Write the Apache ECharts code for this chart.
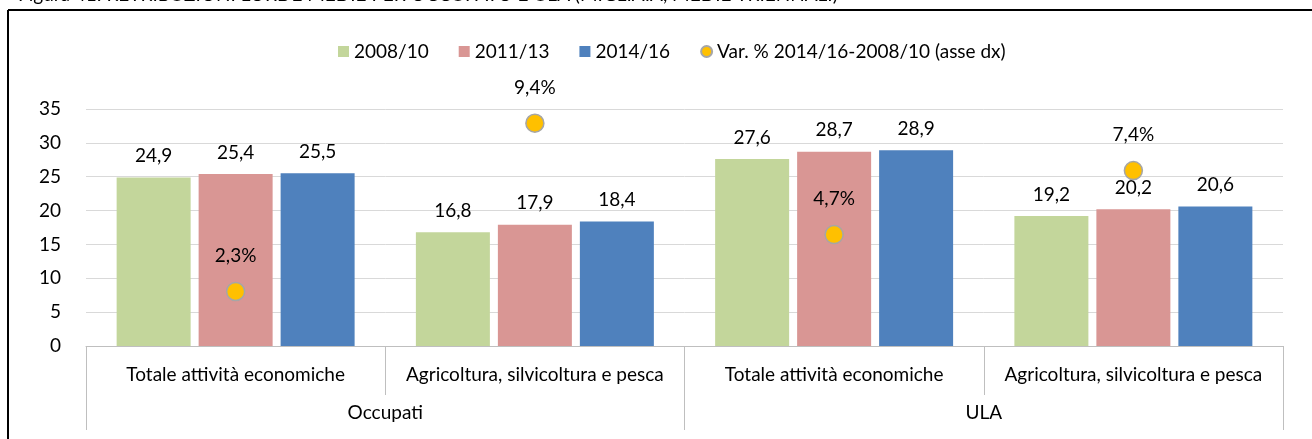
<!DOCTYPE html>
<html>
<head>
<meta charset="utf-8">
<script src="https://cdn.jsdelivr.net/npm/echarts@6/dist/echarts.min.js"></script>
<style>
  html, body { margin: 0; padding: 0; background: #fff; }
  #chart { width: 1312px; height: 439px; }
</style>
</head>
<body>
<div id="chart"></div>
<script>
// Retribuzioni lorde medie (migliaia di euro, medie triennali)
const categories = ['Totale attività economiche', 'Agricoltura, silvicoltura e pesca',
                    'Totale attività economiche', 'Agricoltura, silvicoltura e pesca'];
const groups = ['Occupati', 'ULA'];
const periods = ['2008/10', '2011/13', '2014/16'];
const values2008 = [24.9, 16.8, 27.6, 19.2];
const values2011 = [25.4, 17.9, 28.7, 20.2];
const values2014 = [25.5, 18.4, 28.9, 20.6];
const variation = [2.3, 9.4, 4.7, 7.4];
const varName = 'Var. % 2014/16-2008/10 (asse dx)';
const leftTicks = [0, 5, 10, 15, 20, 25, 30, 35];

const FONT = 'Lato';
const FS = 19;
const TXT = '#000000';
const comma = v => v.toFixed(1).replace('.', ',');

const barColors = ['#C3D69B', '#D99694', '#4F81BD'];
const barData = [values2008, values2011, values2014];

const barSeries = periods.map((p, i) => ({
  name: p,
  type: 'bar',
  xAxisIndex: 0,
  yAxisIndex: 0,
  data: barData[i],
  barWidth: 74,
  barGap: '10.8%',
  itemStyle: { color: barColors[i] },
  label: {
    show: true, position: 'top', distance: 12,
    fontFamily: FONT, fontSize: FS, color: TXT,
    formatter: d => comma(d.value)
  }
}));

const chart = echarts.init(document.getElementById('chart'), null, { renderer: 'canvas' });
chart.setOption({
  animation: false,
  backgroundColor: '#ffffff',
  textStyle: { fontFamily: FONT },
  graphic: [
    { type: 'text', left: 18, top: -15, silent: true,
      style: { text: 'Figura 41: RETRIBUZIONI LORDE MEDIE PER OCCUPATO E ULA (MIGLIAIA, MEDIE TRIENNALI)',
               font: '19px Lato', fill: '#000' } },
    { type: 'line', silent: true, shape: { x1: 8, y1: 10, x2: 1312, y2: 10 },
      style: { stroke: '#000', lineWidth: 2 } },
    { type: 'line', silent: true, shape: { x1: 8, y1: 10, x2: 8, y2: 439 },
      style: { stroke: '#000', lineWidth: 2 } }
  ],
  legend: {
    left: 333, top: 37,
    itemWidth: 11, itemHeight: 11, itemGap: 30,
    textStyle: { fontFamily: FONT, fontSize: FS, color: TXT },
    data: [
      { name: periods[0], icon: 'rect' },
      { name: periods[1], icon: 'rect' },
      { name: periods[2], icon: 'rect' },
      { name: varName, icon: 'circle' }
    ]
  },
  grid: { left: 86, right: 29, top: 109, bottom: 93 },
  xAxis: [
    {
      type: 'category', data: categories, position: 'bottom',
      axisLine: { show: true, lineStyle: { color: '#BFBFBF', width: 1 } },
      axisTick: { show: true, length: 49, lineStyle: { color: '#BFBFBF' } },
      axisLabel: { margin: 19, fontFamily: FONT, fontSize: FS, color: TXT, interval: 0 }
    },
    {
      type: 'category', data: groups, position: 'bottom',
      axisLine: { show: false },
      axisTick: { show: true, length: 84, lineStyle: { color: '#BFBFBF' } },
      axisLabel: { margin: 57, fontFamily: FONT, fontSize: FS, color: TXT }
    }
  ],
  yAxis: [
    {
      type: 'value', min: 0, max: 35, interval: 5,
      axisLine: { show: false }, axisTick: { show: false },
      axisLabel: { margin: 25, fontFamily: FONT, fontSize: FS, color: TXT,
                   formatter: v => leftTicks.includes(v) ? String(v) : '' },
      splitLine: { lineStyle: { color: '#D9D9D9', width: 1 } }
    },
    {
      type: 'value', min: 0, max: 10, show: false,
      splitLine: { show: false }
    }
  ],
  series: [
    ...barSeries,
    {
      name: varName,
      type: 'scatter',
      xAxisIndex: 0,
      yAxisIndex: 1,
      data: variation,
      symbol: 'circle',
      symbolSize: 18,
      z: 5,
      itemStyle: { color: '#FFC000', borderColor: '#A6A6A6', borderWidth: 1.5, opacity: 1 },
      label: {
        show: true, position: 'top', distance: 16,
        fontFamily: FONT, fontSize: FS, color: TXT,
        formatter: d => comma(d.value) + '%'
      }
    }
  ]
});
</script>
</body>
</html>
